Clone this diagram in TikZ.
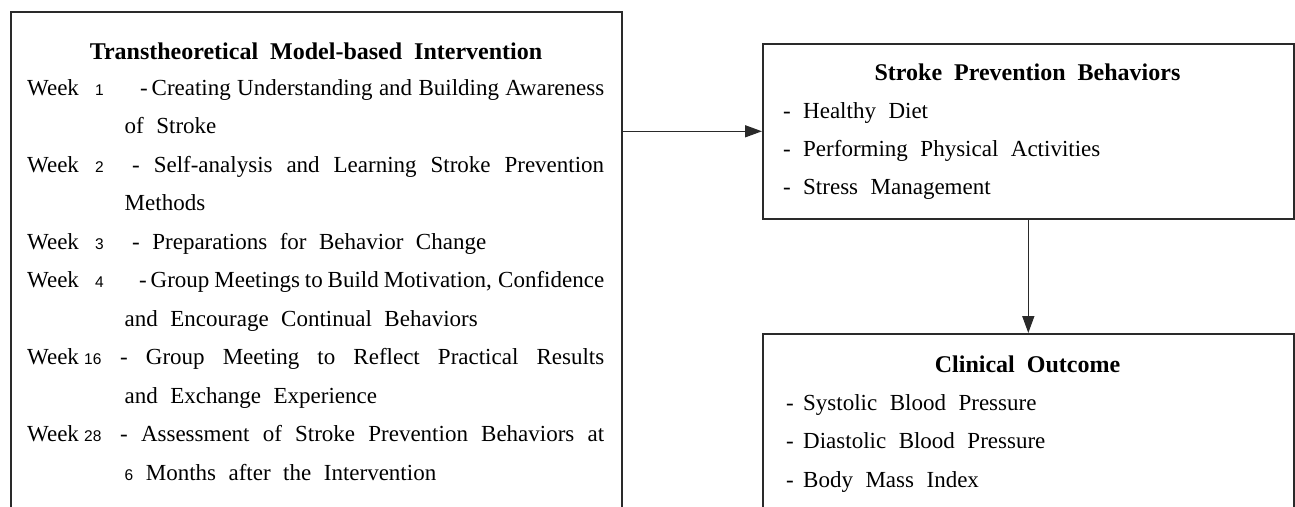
\documentclass[tikz,border=0pt]{standalone}
\usepackage{fontspec}
\setmainfont{Liberation Serif}
\newfontfamily\numfnt{Liberation Sans}
\usetikzlibrary{arrows.meta}
\definecolor{linec}{HTML}{2A2A2A}
\newcommand\bodyfnt{\fontsize{23pt}{27pt}\selectfont\spaceskip=12.5pt plus 14pt minus 8pt\relax}
\newcommand\ttlfnt{\fontsize{24pt}{28pt}\selectfont\bfseries\spaceskip=12pt plus 6pt minus 4pt\relax}
\newcommand\numsz{\numfnt\fontsize{15.5pt}{18pt}\selectfont}
\newcommand\jl[2]{\makebox[#1pt][s]{#2}}
\newcommand\dsh{\makebox[20pt][l]{-}}
\newcommand\dshb{\makebox[17pt][l]{-}}
\tikzset{
  box/.style={draw=linec, line width=1.6pt, inner sep=0pt, anchor=north west},
  txt/.style={anchor=base west, inner sep=0pt, font=\bodyfnt},
  ttl/.style={anchor=base, inner sep=0pt, font=\ttlfnt},
  num/.style={anchor=base west, inner sep=0pt, font=\numsz},
  conn/.style={draw=linec, line width=1.5pt, -{Triangle[length=17pt,width=12pt]}}
}
\begin{document}
\begin{tikzpicture}[x=1pt,y=-1pt]
\useasboundingbox (0,0) rectangle (1295,506);
\clip (0,0) rectangle (1295,506);
% boxes
\node[box, minimum width=611pt, minimum height=540pt] (tti) at (10,11) {};
\node[box, minimum width=531pt, minimum height=175pt] (spb) at (762,43) {};
\node[box, minimum width=531pt, minimum height=250pt] (co) at (762,333) {};
% connectors
\draw[conn] (spb.west -| tti.east) -- (spb.west);
\draw[conn] (spb.south) -- (co.north);
% left box text
\node[ttl] (t0) at (316,59.5) {Transtheoretical Model-based Intervention};
\node[txt] (w1) at (27,95) {Week};
\node[num] (n1) at (95,95) {1};
\node[txt] (l1) at (140,95) {\jl{464}{-\,Creating Understanding and Building Awareness}};
\node[txt] (l2) at (124.5,133.5) {of Stroke};
\node[txt] (w2) at (27,172) {Week};
\node[num] (n2) at (95,172) {2};
\node[txt] (l3) at (132,172) {\jl{472}{- Self-analysis and Learning Stroke Prevention}};
\node[txt] (l4) at (124.5,210.5) {Methods};
\node[txt] (w3) at (27,249) {Week};
\node[num] (n3) at (95,249) {3};
\node[txt] (l5) at (132,249) {- Preparations for Behavior Change};
\node[txt] (w4) at (27,287.5) {Week};
\node[num] (n4) at (95,287.5) {4};
\node[txt] (l6) at (139,287.5) {\jl{465}{-\,Group Meetings to Build Motivation, Confidence}};
\node[txt] (l7) at (124.5,326) {and Encourage Continual Behaviors};
\node[txt] (w5) at (27,364.5) {Week};
\node[num] (n5) at (84,364.5) {16};
\node[txt] (l8) at (120,364.5) {\jl{484}{- Group Meeting to Reflect Practical Results}};
\node[txt] (l9) at (124.5,403) {and Exchange Experience};
\node[txt] (w6) at (27,441.5) {Week};
\node[num] (n6) at (84,441.5) {28};
\node[txt] (l10) at (120,441.5) {\jl{484}{- Assessment of Stroke Prevention Behaviors at}};
\node[txt] (l11) at (124.5,480) {{\numsz 6} Months after the Intervention};
% right top box text
\node[ttl] (s0) at (1027.5,80) {Stroke Prevention Behaviors};
\node[txt] (s1) at (783,118.5) {\dsh Healthy Diet};
\node[txt] (s2) at (783,156.5) {\dsh Performing Physical Activities};
\node[txt] (s3) at (783,194.5) {\dsh Stress Management};
% right bottom box text
\node[ttl] (c0) at (1027.5,372) {Clinical Outcome};
\node[txt] (c1) at (786,410) {\dshb Systolic Blood Pressure};
\node[txt] (c2) at (786,448.5) {\dshb Diastolic Blood Pressure};
\node[txt] (c3) at (786,487) {\dshb Body Mass Index};
\end{tikzpicture}
\end{document}
